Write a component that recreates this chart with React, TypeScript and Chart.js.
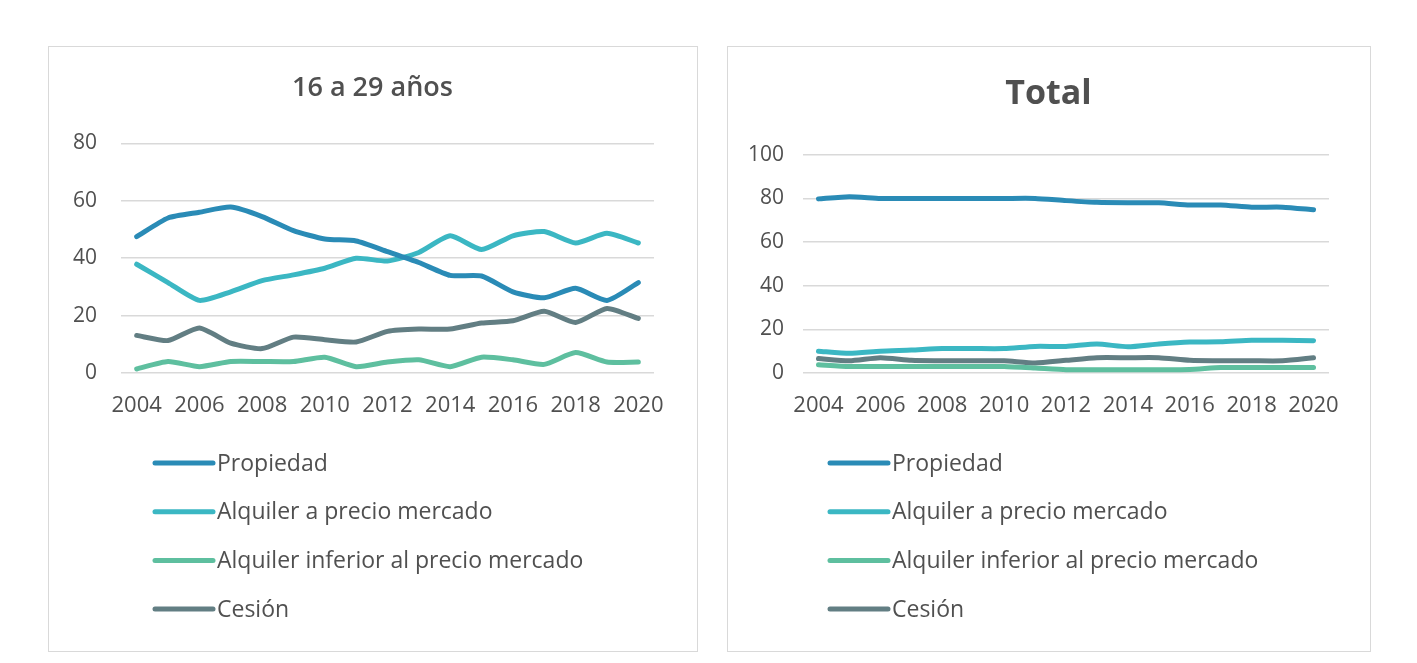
import React, { useEffect, useRef } from "react";
import { Chart, registerables } from "chart.js";

Chart.register(...registerables);

const years = ["2004","2005","2006","2007","2008","2009","2010","2011","2012","2013","2014","2015","2016","2017","2018","2019","2020"];
const seriesNames = ["Propiedad", "Alquiler a precio mercado", "Alquiler inferior al precio mercado", "Cesión"];
const seriesColors = ["#2a8bb6", "#3bb7c3", "#5ebf9f", "#627e83"];

// 16 a 29 años
const youngPropiedad = [47.5, 54, 56, 57.8, 54.5, 49.6, 46.7, 46, 42.3, 38.5, 34, 33.8, 28.3, 26.2, 29.5, 25.3, 31.5];
const youngMercado = [37.9, 31.5, 25.3, 28.3, 32.2, 34.2, 36.5, 40, 39, 42, 47.8, 43, 47.8, 49.3, 45.3, 48.7, 45.3];
const youngInferior = [1.4, 4, 2.2, 4, 4, 4, 5.5, 2.2, 3.8, 4.6, 2.2, 5.5, 4.6, 3, 7.1, 3.8, 3.8];
const youngCesion = [13.1, 11.3, 15.7, 10.4, 8.5, 12.5, 11.6, 10.8, 14.5, 15.3, 15.3, 17.4, 18.2, 21.5, 17.6, 22.5, 19];

// Total
const totalPropiedad = [79.8, 80.8, 80, 80, 80, 80, 80, 80, 79, 78.2, 78, 78, 77, 77, 76, 76, 74.8];
const totalMercado = [10, 9, 10, 10.5, 11.2, 11.2, 11.2, 12.2, 12.2, 13.3, 12, 13.3, 14.2, 14.3, 15, 15, 14.8];
const totalInferior = [3.8, 3, 3, 3, 3, 3, 3, 2.3, 1.5, 1.5, 1.5, 1.5, 1.6, 2.5, 2.5, 2.5, 2.5];
const totalCesion = [6.6, 5.6, 7, 5.8, 5.6, 5.6, 5.6, 4.6, 5.8, 7, 7, 7, 5.8, 5.6, 5.6, 5.6, 7];

const FONT = "'Open Sans', Lato, sans-serif";
const TEXT = "#505050";

const legendPlugin = {
  id: "vlegend",
  afterDraw(chart: any, _args: any, opts: any) {
    const ctx = chart.ctx;
    ctx.save();
    ctx.font = `${opts.size}px ${FONT}`;
    ctx.textBaseline = "middle";
    ctx.textAlign = "left";
    chart.data.datasets.forEach((ds: any, i: number) => {
      const y = opts.y0 + i * opts.dy;
      ctx.strokeStyle = ds.borderColor;
      ctx.lineWidth = 5;
      ctx.lineCap = "round";
      ctx.beginPath();
      ctx.moveTo(opts.x, y);
      ctx.lineTo(opts.x + 58, y);
      ctx.stroke();
      ctx.fillStyle = TEXT;
      ctx.fillText(ds.label, opts.x + 62, y + 1);
    });
    ctx.restore();
  },
};

interface PanelProps {
  left: number;
  width: number;
  title: string;
  titleSize: number;
  titleWeight: string;
  titlePadTop: number;
  titlePadBottom: number;
  yMax: number;
  yLeftWidth: number;
  yPad: number;
  padRight: number;
  legendX: number;
  values: number[][];
}

function Panel(p: PanelProps) {
  const ref = useRef<HTMLCanvasElement>(null);
  useEffect(() => {
    if (!ref.current) return;
    const chart = new Chart(ref.current, {
      type: "line",
      data: {
        labels: years,
        datasets: p.values.map((v, i) => ({
          label: seriesNames[i],
          data: v,
          borderColor: seriesColors[i],
          backgroundColor: seriesColors[i],
          borderWidth: 5,
          pointRadius: 0,
          tension: 0.2,
          borderCapStyle: "round",
          borderJoinStyle: "round",
        })),
      },
      options: {
        animation: false,
        responsive: false,
        devicePixelRatio: 1,
        layout: { padding: { left: 0, right: 0, top: 0, bottom: 227 } },
        plugins: {
          legend: { display: false },
          tooltip: { enabled: false },
          title: {
            display: true,
            text: p.title,
            color: TEXT,
            font: { family: FONT, size: p.titleSize, weight: p.titleWeight as any },
            padding: { top: p.titlePadTop, bottom: p.titlePadBottom },
          },
          vlegend: { x: p.legendX, y0: 416, dy: 48.7, size: 23 },
        } as any,
        scales: {
          x: {
            offset: true,
            grid: { display: false, drawTicks: false },
            border: { display: false },
            ticks: {
              autoSkip: false,
              maxRotation: 0,
              padding: 20,
              color: TEXT,
              font: { family: FONT, size: 22 },
              callback: (_v: any, idx: number) => (idx % 2 === 0 ? years[idx] : ""),
            },
            afterFit: (s: any) => {
              s.height = 50;
              s.paddingRight = p.padRight;
            },
          },
          y: {
            min: 0,
            max: p.yMax,
            ticks: { stepSize: 20, padding: p.yPad, color: TEXT, font: { family: FONT, size: 21 } },
            grid: { color: "#d9d9d9", lineWidth: 1.6, drawTicks: false },
            border: { display: false },
            afterFit: (s: any) => { s.width = p.yLeftWidth; },
          },
        },
      },
      plugins: [legendPlugin],
    });
    return () => chart.destroy();
  }, []);
  return (
    <div
      style={{
        position: "absolute",
        left: p.left,
        top: 46,
        width: p.width,
        height: 606,
        boxSizing: "border-box",
        border: "1.5px solid #d9d9d9",
        background: "#fff",
      }}
    >
      <canvas ref={ref} width={p.width - 3} height={603} style={{ display: "block" }} />
    </div>
  );
}

export default function App() {
  return (
    <div style={{ position: "fixed", left: 0, top: 0, width: 1417, height: 663, background: "#fff" }}>
      <Panel
        left={48}
        width={650}
        title="16 a 29 años"
        titleSize={27}
        titleWeight="600"
        titlePadTop={25}
        titlePadBottom={39}
        yMax={80}
        yLeftWidth={72}
        yPad={24}
        padRight={42}
        legendX={106}
        values={[youngPropiedad, youngMercado, youngInferior, youngCesion]}
      />
      <Panel
        left={727}
        width={644}
        title="Total"
        titleSize={34}
        titleWeight="bold"
        titlePadTop={27}
        titlePadBottom={40}
        yMax={100}
        yLeftWidth={75}
        yPad={19}
        padRight={40}
        legendX={102}
        values={[totalPropiedad, totalMercado, totalInferior, totalCesion]}
      />
    </div>
  );
}
